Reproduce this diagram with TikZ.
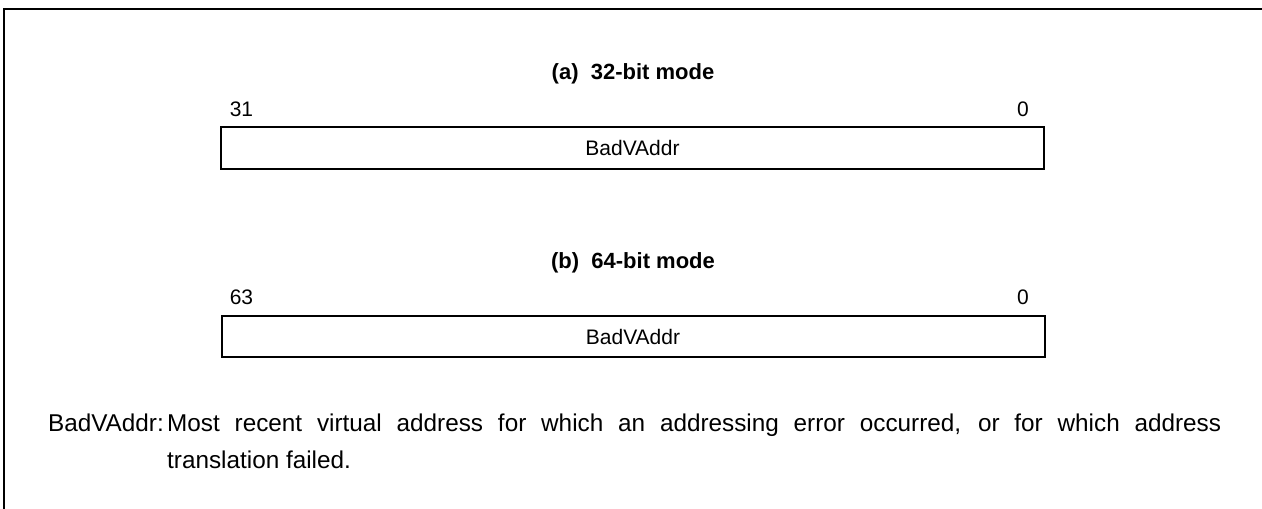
\documentclass[tikz,border=0pt]{standalone}
\usepackage{fontspec}
\setmainfont{Liberation Sans}
\begin{document}
\begin{tikzpicture}[x=1pt,y=-1pt,
  frame/.style={line width=2pt},
  regbox/.style={draw, line width=2pt, minimum width=823pt, minimum height=41.5pt, inner sep=0pt, font=\fontsize{21}{25}\selectfont},
  bitlbl/.style={inner sep=0pt, anchor=base, font=\fontsize{21}{25}\selectfont},
  title/.style={inner sep=0pt, anchor=base, font=\fontsize{22}{26}\selectfont\bfseries},
  body/.style={inner sep=0pt, anchor=base west, font=\fontsize{24.3}{37}\selectfont}]
\useasboundingbox (0,0) rectangle (1262,509);
\draw[frame] (4,510) -- (4,9) -- (1263,9);
% (a) 32-bit
\node[title] (ta) at (633,79.5) {(a)\ \ 32-bit mode};
\node[bitlbl] (a31) at (241.5,116) {31};
\node[bitlbl] (a0) at (1023,116) {0};
\node[regbox] (ra) at (632.5,148) {BadVAddr};
% (b) 64-bit
\node[title] (tb) at (633,268.5) {(b)\ \ 64-bit mode};
\node[bitlbl] (b63) at (241.5,304.5) {63};
\node[bitlbl] (b0) at (1023,304.5) {0};
\node[regbox] (rb) at (633,336.5) {BadVAddr};
% description
\node[body, anchor=base east] (dl) at (164,431) {BadVAddr:};
\node[body, text width=1054pt, align=justify] (dt) at (167,431) {Most recent virtual address for which an addressing error occurred, or for which address\linebreak translation failed.};
\end{tikzpicture}
\end{document}
